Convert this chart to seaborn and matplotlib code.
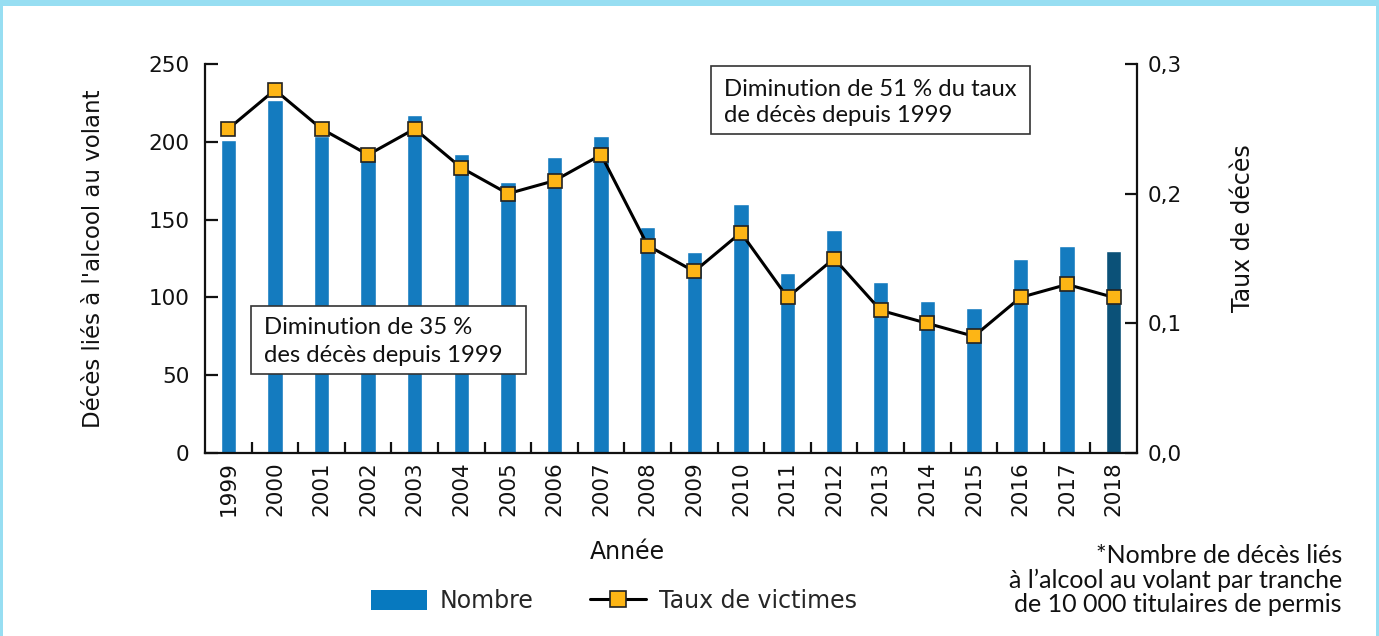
import numpy as np
import pandas as pd
import matplotlib
matplotlib.use("Agg")
import matplotlib.pyplot as plt
import seaborn as sns
from matplotlib.patches import Rectangle, Patch
from matplotlib.lines import Line2D

# ---- data ----
years = [str(y) for y in range(1999, 2019)]
deces = [201, 227, 204, 192, 217, 192, 174, 190, 204, 145,
         129, 160, 116, 143, 110, 98, 93, 125, 133, 130]
taux = [0.25, 0.28, 0.25, 0.23, 0.25, 0.22, 0.20, 0.21, 0.23, 0.16,
        0.14, 0.17, 0.12, 0.15, 0.11, 0.10, 0.09, 0.12, 0.13, 0.12]
left_ticks = [0, 50, 100, 150, 200, 250]
right_ticks = [0.0, 0.1, 0.2, 0.3]
right_labels = ["0,0", "0,1", "0,2", "0,3"]

BLUE = "#147BBF"
DARK = "#0B5178"
ORANGE = "#FDB515"
BORDER = "#97DEF2"

sns.set_theme(style="white")
plt.rcParams["font.family"] = ["DejaVu Sans"]
SANS2 = ["Lato", "DejaVu Sans"]

W, H = 1379, 636
fig = plt.figure(figsize=(W / 100, H / 100), dpi=100)
ax = fig.add_axes([205 / W, 1 - 453 / H, (1137 - 205) / W, (453 - 64) / H])

df = pd.DataFrame({"annee": years, "deces": deces, "taux": taux})
palette = [BLUE] * (len(years) - 1) + [DARK]
sns.barplot(data=df, x="annee", y="deces", hue="annee", palette=palette,
            legend=False, width=0.33, saturation=1, ax=ax, zorder=2)

ax2 = ax.twinx()
sns.pointplot(data=df, x="annee", y="taux", ax=ax2, color="black",
              markers="s", linestyles="-", errorbar=None,
              linewidth=2.2, markersize=10.5, markerfacecolor=ORANGE,
              markeredgecolor="#222222", markeredgewidth=1.2)

n = len(years)
ax.set_xlim(-0.5, n - 0.5)
ax2.set_xlim(-0.5, n - 0.5)
ax.set_ylim(0, 250)
ax2.set_ylim(0, 0.3)

for a in (ax, ax2):
    a.spines["top"].set_visible(False)
    for s in a.spines.values():
        s.set_linewidth(1.6)
        s.set_color("#111111")
ax.spines["right"].set_visible(False)
ax2.spines["left"].set_visible(False)
ax2.spines["bottom"].set_visible(False)

ax.set_yticks(left_ticks)
ax.set_yticklabels([str(v) for v in left_ticks])
ax.tick_params(axis="y", direction="in", length=9, width=1.6, pad=11,
               labelsize=15.5, colors="#111111", left=True)
ax.set_xticks(range(n))
ax.set_xticklabels(years, rotation=90)
ax.tick_params(axis="x", which="major", length=0, pad=6, labelsize=15.5,
               colors="#111111")
ax.set_xticks(np.arange(0.5, n - 1, 1.0), minor=True)
ax.tick_params(axis="x", which="minor", direction="in", length=8,
               width=1.6, color="#111111", bottom=True)

ax2.set_yticks(right_ticks)
ax2.set_yticklabels(right_labels)
ax2.tick_params(axis="y", direction="in", length=9, width=1.6, pad=8,
                labelsize=15.5, colors="#111111", right=True)
ax.grid(False)
ax2.grid(False)

ax.set_xlabel("Année", fontsize=17, color="#111111")
ax.xaxis.set_label_coords(0.4528, -0.2545)
ax.xaxis.label.set_va("center")
ax.set_ylabel("Décès liés à l'alcool au volant", fontsize=16.5,
              color="#111111", va="center")
ax.yaxis.set_label_coords(-0.12, 0.5)
ax2.set_ylabel("Taux de décès", fontsize=17, color="#111111",
               rotation=90, va="center")
ax2.yaxis.set_label_coords(1.1137, 0.578)

# annotation boxes
def box(x0, y0, x1, y1, lines, tx, ty):
    fig.add_artist(Rectangle((x0 / W, 1 - y1 / H), (x1 - x0) / W, (y1 - y0) / H,
                             transform=fig.transFigure, facecolor="white",
                             edgecolor="#333333", linewidth=1.2, zorder=5))
    for t, yy in zip(lines, ty):
        fig.text(tx / W, 1 - yy / H, t, fontsize=17.2, family=SANS2,
                 ha="left", va="center", color="#111111", zorder=6)

box(251, 306, 526, 374, ["Diminution de 35 %", "des décès depuis 1999"],
    264, [328, 355])
box(711, 66, 1030, 134, ["Diminution de 51 % du taux", "de décès depuis 1999"],
    724, [89, 116])

# legend
handles = [Patch(facecolor="#0779BF", edgecolor="none"),
           Line2D([0], [0], color="black", linewidth=2.2, marker="s",
                  markersize=12, markerfacecolor=ORANGE,
                  markeredgecolor="#222222", markeredgewidth=1.2)]
fig.legend(handles, ["Nombre", "Taux de victimes"], loc="center",
           bbox_to_anchor=(614 / W, 1 - 601 / H), ncol=2, frameon=False,
           handlelength=2.35, handleheight=0.95,
           handletextpad=0.55, columnspacing=2.4,
           prop={"size": 17})

# footnote
fig.text(1342 / W, 1 - 580 / H,
         "*Nombre de décès liés\nà l’alcool au volant par tranche\nde 10 000 titulaires de permis",
         ha="right", va="center", multialignment="right", fontsize=18,
         family=SANS2, color="#111111", linespacing=1.08)

# frame border
fig.add_artist(Rectangle((0, 1 - 6 / H), 1, 6 / H, transform=fig.transFigure,
                         facecolor=BORDER, edgecolor="none"))
fig.add_artist(Rectangle((0, 0), 2.5 / W, 1, transform=fig.transFigure,
                         facecolor=BORDER, edgecolor="none"))
fig.add_artist(Rectangle((1 - 3 / W, 0), 3 / W, 1, transform=fig.transFigure,
                         facecolor=BORDER, edgecolor="none"))

fig.savefig("out.png", dpi=100, facecolor="white")
